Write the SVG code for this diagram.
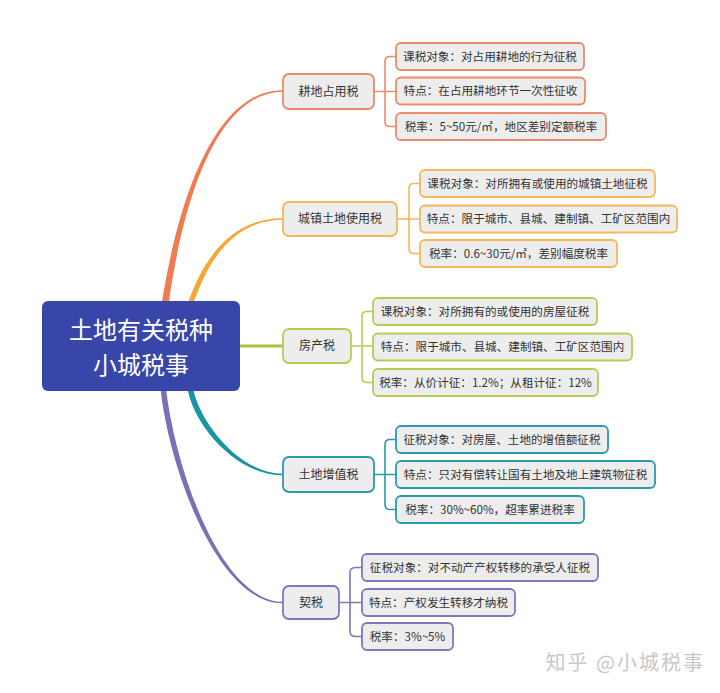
<svg xmlns="http://www.w3.org/2000/svg" width="720" height="693" viewBox="0 0 720 693">
<style>
text{font-family:"Noto Sans CJK SC","Noto Sans",sans-serif;fill:#333}
.box{fill:#ededed;stroke-width:1.8}
.t1{font-size:12px;text-anchor:middle}
.t2{font-size:11.6px;text-anchor:middle}
.br{fill:none;stroke-width:1.6}
.c1{stroke:#ec8a6c}.c2{stroke:#f3b85a}.c3{stroke:#b7cb55}.c4{stroke:#2a9aae}.c5{stroke:#8076b8}
</style>
<rect width="720" height="693" fill="#fff"/>
<g id="connectors">
<path d="M161.5,305 C177.5,203 214,89.6 283,90.3 L283,91.8 C216,92.4 182.5,203 168.5,305 Z" fill="#f07a52"/>
<path d="M187.3,305 C204.5,254 234.5,218 283,218.3 L283,219.8 C235.5,220 209.5,256 192.8,305 Z" fill="#f7a632"/>
<line x1="236" y1="346" x2="283" y2="346" stroke="#a8c43a" stroke-width="3"/>
<path d="M187.3,387 C192,422 234,475.2 283,475.3 L283,473.8 C236,472.8 198,418 192.8,387 Z" fill="#1a95a6"/>
<path d="M160.3,387 C169,471 219,604.3 283,603.3 L283,601.8 C221,601.7 175,469 165.8,387 Z" fill="#7b70b7"/>
<path class="br c1" d="M374,91.5 H396 M396,56.5 H390 Q385,56.5 385,61.5 V121.5 Q385,126.5 390,126.5 H396"/>
<path class="br c2" d="M397,219 H420 M420,183.5 H414 Q409,183.5 409,188.5 V248.5 Q409,253.5 414,253.5 H420"/>
<path class="br c3" d="M351,346 H373 M373,311.5 H367 Q362,311.5 362,316.5 V377.5 Q362,382.5 367,382.5 H373"/>
<path class="br c4" d="M374,474.5 H396 M396,439.5 H390 Q385,439.5 385,444.5 V504.5 Q385,509.5 390,509.5 H396"/>
<path class="br c5" d="M339,602.5 H362 M362,567.5 H356 Q350,567.5 350,572.5 V631.5 Q350,636.5 356,636.5 H362"/>
</g>
<g id="root">
<rect x="42" y="301" width="198" height="90" rx="6" fill="#3846a9"/>
<text font-size="24" text-anchor="middle" style="fill:#fff"><tspan x="141" y="338.5">土地有关税种</tspan><tspan x="141" y="373.5">小城税事</tspan></text>
</g>
<g id="gengdi">
<rect class="box c1" x="283" y="74" width="91" height="35" rx="6"/>
<text class="t1" x="328.5" y="95.5">耕地占用税</text>
</g>
<g id="gengdi-1"><rect class="box c1" x="396" y="43" width="188" height="27" rx="5"/><text class="t2" x="490" y="60.5">课税对象：对占用耕地的行为征税</text></g>
<g id="gengdi-2"><rect class="box c1" x="396" y="77.5" width="189" height="27" rx="5"/><text class="t2" x="490.5" y="95">特点：在占用耕地环节一次性征收</text></g>
<g id="gengdi-3"><rect class="box c1" x="396" y="113" width="210" height="27" rx="5"/><text class="t2" x="501" y="130.5">税率：5~50元/㎡，地区差别定额税率</text></g>
<g id="chengzhen">
<rect class="box c2" x="283" y="202" width="114" height="34" rx="6"/>
<text class="t1" x="340" y="223">城镇土地使用税</text>
</g>
<g id="chengzhen-1"><rect class="box c2" x="420" y="170" width="235" height="27" rx="5"/><text class="t2" x="537.5" y="187.5">课税对象：对所拥有或使用的城镇土地征税</text></g>
<g id="chengzhen-2"><rect class="box c2" x="420" y="205.5" width="257" height="27" rx="5"/><text class="t2" x="548.5" y="223">特点：限于城市、县城、建制镇、工矿区范围内</text></g>
<g id="chengzhen-3"><rect class="box c2" x="420" y="240" width="197" height="27" rx="5"/><text class="t2" x="518.5" y="257.5">税率：0.6~30元/㎡，差别幅度税率</text></g>
<g id="fangchan">
<rect class="box c3" x="283" y="329" width="68" height="34" rx="6"/>
<text class="t1" x="317" y="350">房产税</text>
</g>
<g id="fangchan-1"><rect class="box c3" x="373" y="298" width="224" height="27" rx="5"/><text class="t2" x="485" y="315.5">课税对象：对所拥有的或使用的房屋征税</text></g>
<g id="fangchan-2"><rect class="box c3" x="373" y="333.5" width="259" height="27" rx="5"/><text class="t2" x="502.5" y="351">特点：限于城市、县城、建制镇、工矿区范围内</text></g>
<g id="fangchan-3"><rect class="box c3" x="373" y="369" width="225" height="27" rx="5"/><text class="t2" x="485.5" y="386.5">税率：从价计征：1.2%；从租计征：12%</text></g>
<g id="zengzhi">
<rect class="box c4" x="283" y="457" width="91" height="35" rx="6"/>
<text class="t1" x="328.5" y="478.5">土地增值税</text>
</g>
<g id="zengzhi-1"><rect class="box c4" x="396" y="426" width="212" height="27" rx="5"/><text class="t2" x="502" y="443.5">征税对象：对房屋、土地的增值额征税</text></g>
<g id="zengzhi-2"><rect class="box c4" x="396" y="461" width="259" height="27" rx="5"/><text class="t2" x="525.5" y="478.5">特点：只对有偿转让国有土地及地上建筑物征税</text></g>
<g id="zengzhi-3"><rect class="box c4" x="396" y="496" width="188" height="27" rx="5"/><text class="t2" x="490" y="513.5">税率：30%~60%，超率累进税率</text></g>
<g id="qishui">
<rect class="box c5" x="283" y="586" width="56" height="33" rx="6"/>
<text class="t1" x="311" y="606.5">契税</text>
</g>
<g id="qishui-1"><rect class="box c5" x="362" y="554" width="236" height="27" rx="5"/><text class="t2" x="480" y="571.5">征税对象：对不动产产权转移的承受人征税</text></g>
<g id="qishui-2"><rect class="box c5" x="362" y="589" width="153" height="27" rx="5"/><text class="t2" x="438.5" y="606.5">特点：产权发生转移才纳税</text></g>
<g id="qishui-3"><rect class="box c5" x="362" y="623" width="91" height="27" rx="5"/><text class="t2" x="407.5" y="640.5">税率：3%~5%</text></g>
<text x="705" y="670" font-size="20" text-anchor="end" letter-spacing="2" style="fill:#c8c8c8">知乎 @小城税事</text>
</svg>
